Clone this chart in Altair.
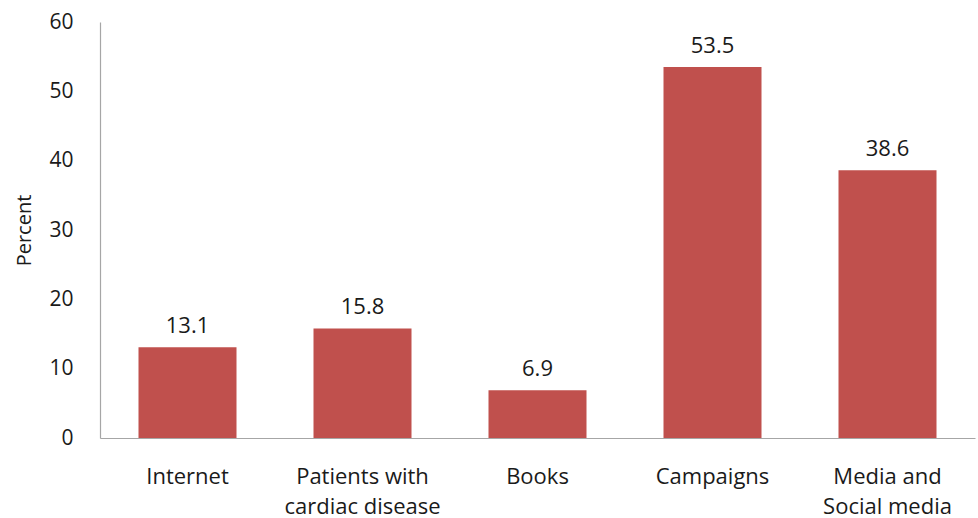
import altair as alt
import pandas as pd

categories = ["Internet", "Patients with|cardiac disease", "Books", "Campaigns", "Media and|Social media"]
values = [13.1, 15.8, 6.9, 53.5, 38.6]

df = pd.DataFrame({"cat": categories, "val": values})
df["lbl"] = df["val"].map(lambda v: f"{v:.1f}")

FONT = "Open Sans"
TXT = "#1a1a1a"

base = alt.Chart(df).encode(
    x=alt.X("cat:N", sort=categories, title=None,
            scale=alt.Scale(paddingInner=0.44, paddingOuter=0.22),
            axis=alt.Axis(labelAngle=0, labelExpr="split(datum.label, '|')",
                          labelFont=FONT, labelFontSize=22, labelColor=TXT,
                          labelPadding=28, labelLineHeight=30, ticks=False,
                          domainColor="#a6a6a6", domainWidth=1.2)),
    y=alt.Y("val:Q", title="Percent",
            scale=alt.Scale(domain=[0, 60], nice=False),
            axis=alt.Axis(values=[0, 10, 20, 30, 40, 50, 60], grid=False, ticks=False,
                          labelFont=FONT, labelFontSize=21, labelColor=TXT,
                          labelPadding=27, domainColor="#a6a6a6", domainWidth=1.2,
                          titleFont=FONT, titleFontSize=20, titleFontWeight="normal",
                          titleColor=TXT, titlePadding=14)),
)

bars = base.mark_bar(color="#C0504D")
text = base.mark_text(dy=-14, baseline="alphabetic", font=FONT, fontSize=22, color=TXT).encode(text="lbl:N")

chart = (bars + text).properties(
    width=875, height=416,
    background="white",
    autosize=alt.AutoSizeParams(type="none"),
    padding={"left": 100, "top": 22, "right": 3, "bottom": 80},
).configure_view(stroke=None)

chart.save("out.html", embed_options={"renderer": "svg", "actions": False})
